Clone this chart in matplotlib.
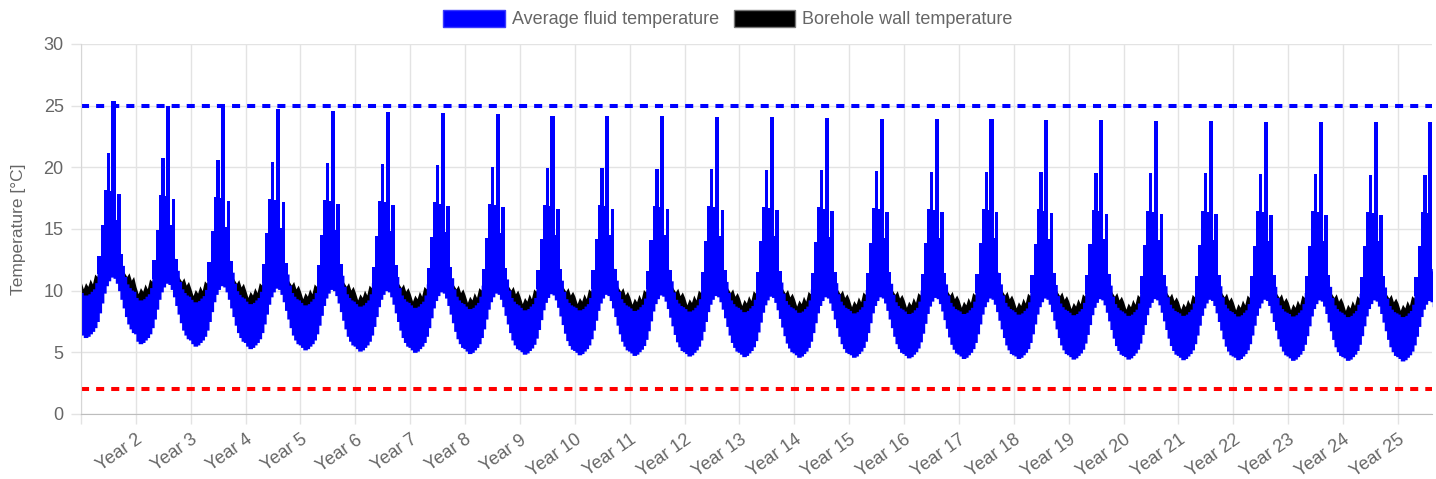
import numpy as np
import matplotlib.pyplot as plt
from matplotlib.patches import Patch

plt.rcParams['font.family'] = ['Liberation Sans', 'DejaVu Sans']

# yearly peak and low of the average fluid temperature [degC]
annual_max = [25.4, 25.0, 24.85, 24.7, 24.6, 24.5, 24.4, 24.3, 24.2, 24.2,
              24.15, 24.1, 24.05, 24.0, 23.95, 23.9, 23.9, 23.85, 23.8, 23.75,
              23.75, 23.7, 23.7, 23.65, 23.65]
annual_min = [6.2, 5.7, 5.5, 5.3, 5.2, 5.1, 5.0, 4.9, 4.85, 4.8,
              4.75, 4.7, 4.65, 4.6, 4.6, 4.55, 4.5, 4.5, 4.45, 4.45,
              4.4, 4.4, 4.35, 4.35, 4.3]

# typical year (year 3) in half-month steps
fluid_lo = [5.7, 5.5, 5.5, 5.6, 5.8, 6.0, 6.3, 6.8, 7.5, 8.3, 9.1, 9.7,
            10.1, 10.4, 10.3, 9.9, 9.3, 8.6, 7.9, 7.2, 6.6, 6.2, 5.9, 5.8]
fluid_hi = [9.3, 9.1, 9.1, 9.2, 9.4, 9.6, 10.1, 11.0, 11.8, 12.4, 12.8, 13.0,
            13.0, 13.0, 13.0, 12.8, 12.5, 12.0, 11.5, 10.6, 10.0, 9.7, 9.5, 9.4]
wall_hi = [10.2, 9.6, 10.1, 9.8, 10.4, 10.0, 10.8, 10.6, 11.3, 11.8, 12.3, 12.8,
           13.0, 13.0, 12.8, 12.5, 12.2, 11.9, 11.3, 10.9, 10.6, 10.9, 10.3, 10.6]

# monthly peak-load pulses of year 3 (fraction of year, degC)
spike_start = [0.30, 0.36, 0.415, 0.465, 0.525, 0.555, 0.63, 0.655, 0.72]
spike_end = [0.36, 0.415, 0.465, 0.525, 0.555, 0.63, 0.655, 0.72, 0.77]
spike_h = [12.3, 14.8, 17.6, 20.6, 17.5, 24.85, 15.2, 17.3, 12.4]

year_ticks = ['', 'Year 2', 'Year 3', 'Year 4', 'Year 5', 'Year 6', 'Year 7',
              'Year 8', 'Year 9', 'Year 10', 'Year 11', 'Year 12', 'Year 13',
              'Year 14', 'Year 15', 'Year 16', 'Year 17', 'Year 18', 'Year 19',
              'Year 20', 'Year 21', 'Year 22', 'Year 23', 'Year 24', 'Year 25']

limit_high = 25
limit_low = 2

ref = 2
steps = len(fluid_lo)
frac = np.arange(steps) / steps

x, lo, hi, wall = [], [], [], []
bx, bw, bbot, bh = [], [], [], []
for k in range(len(annual_max)):
    d_lo = annual_min[k] - annual_min[ref]
    d_hi = annual_max[k] - annual_max[ref]
    x.append(k + frac)
    lo.append(np.array(fluid_lo) + d_lo)
    hi.append(np.array(fluid_hi) + d_hi)
    wall.append(np.array(wall_hi) + d_hi)
    bx.append(k + np.array(spike_start))
    bw.append(np.array(spike_end) - np.array(spike_start))
    bbot.append(np.full(len(spike_h), 10.8 + d_hi))
    bh.append(np.array(spike_h) + d_hi - (10.8 + d_hi))
x = np.concatenate(x)
lo = np.concatenate(lo)
hi = np.concatenate(hi)
wall = np.concatenate(wall)

fig = plt.figure(figsize=(14.36, 4.79), dpi=100)
ax = fig.add_axes([81 / 1436, 65 / 479, 1351 / 1436, 370 / 479])

# borehole wall underneath, fluid on top
ax.fill_between(x, lo + 1.5, wall, color='black', lw=0)
ax.fill_between(x, lo, hi, step='post', color='#0000ff', lw=0)
ax.bar(np.concatenate(bx), np.concatenate(bh), width=np.concatenate(bw),
       bottom=np.concatenate(bbot), align='edge', color='#0000ff', lw=0)

ax.plot([0, 25], [limit_high, limit_high], color='#0000ff', lw=2.9,
        dashes=(2.0, 1.75), solid_capstyle='butt')
ax.plot([0, 25], [limit_low, limit_low], color='#ff0000', lw=2.9,
        dashes=(2.0, 1.75), solid_capstyle='butt')

ax.set_xlim(0, 24.62)
ax.set_ylim(0, 30)
ax.set_yticks(range(0, 31, 5))
ax.set_xticks(range(len(year_ticks)))
ax.set_xticklabels(year_ticks, rotation=35, ha='right', va='top',
                   rotation_mode='anchor')
ax.grid(True, color='#e3e3e3', lw=1)
ax.set_axisbelow(True)
ax.tick_params(axis='both', colors='#e3e3e3', labelcolor='#666666',
               labelsize=13, length=7.5, width=1)
ax.tick_params(axis='x', pad=5)
ax.tick_params(axis='y', pad=5)
for s in ['top', 'right']:
    ax.spines[s].set_visible(False)
ax.spines['left'].set_color('#d6d6d6')
ax.spines['bottom'].set_color('#bdbdbd')

ax.set_ylabel('Temperature [°C]', color='#666666', fontsize=12.5)
ax.yaxis.set_label_coords(-0.041, 0.5)

handles = [Patch(facecolor='#0000ff', edgecolor='#3a3aff'),
           Patch(facecolor='black', edgecolor='#777777')]
fig.legend(handles, ['Average fluid temperature', 'Borehole wall temperature'],
           loc='center', bbox_to_anchor=(728 / 1436, 1 - 19 / 479), ncol=2,
           frameon=False, fontsize=13, labelcolor='#666666',
           handlelength=3.4, handleheight=1.1, handletextpad=0.4,
           columnspacing=0.8)

fig.savefig('out.png', dpi=100)
